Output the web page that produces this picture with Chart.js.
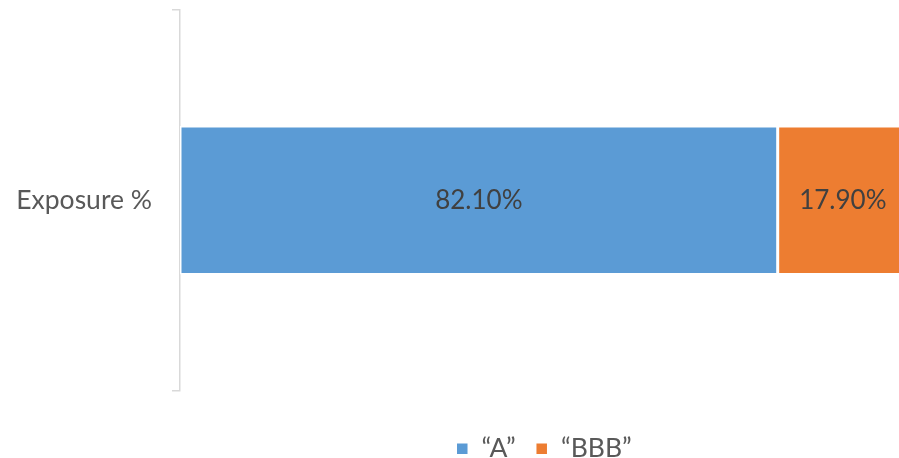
<!DOCTYPE html>
<html>
<head>
<meta charset="utf-8">
<script src="https://cdn.jsdelivr.net/npm/chart.js@4.4.1/dist/chart.umd.min.js"></script>
<style>
  html, body { margin: 0; padding: 0; background: #fff; overflow: hidden; }
  #wrap { width: 908px; height: 472px; position: relative; }
</style>
</head>
<body>
<div id="wrap"><canvas id="myChart"></canvas></div>
<script>
const categories = ['Exposure %'];
const seriesNames = ['\u201cA\u201d', '\u201cBBB\u201d'];
const valuesA = [82.10];
const valuesBBB = [17.90];
const seriesColors = ['#5B9BD5', '#ED7D31'];

const ctx = document.getElementById('myChart');

// writes the value in the middle of each bar
const barLabels = {
  id: 'barLabels',
  afterDatasetsDraw(chart) {
    const c = chart.ctx;
    c.save();
    c.font = '26px Lato';
    c.fillStyle = '#404040';
    c.textAlign = 'center';
    c.textBaseline = 'middle';
    chart.data.datasets.forEach(function (ds, i) {
      chart.getDatasetMeta(i).data.forEach(function (bar, j) {
        const p = bar.getProps(['x', 'y', 'base'], true);
        c.fillText(ds.data[j].toFixed(2) + '%', (p.x + p.base) / 2, p.y);
      });
    });
    c.restore();
  }
};

new Chart(ctx, {
  type: 'bar',
  data: {
    labels: categories,
    datasets: [
      { label: seriesNames[0], data: valuesA, backgroundColor: seriesColors[0] },
      { label: seriesNames[1], data: valuesBBB, backgroundColor: seriesColors[1] }
    ]
  },
  options: {
    indexAxis: 'y',
    responsive: true,
    maintainAspectRatio: false,
    animation: false,
    layout: { padding: { top: 10, left: 0, right: 0, bottom: 0 } },
    datasets: {
      bar: {
        categoryPercentage: 0.39,
        barPercentage: 1,
        borderColor: '#ffffff',
        borderWidth: 1.5,
        borderSkipped: false
      }
    },
    scales: {
      x: {
        stacked: true,
        min: 0,
        max: 100,
        ticks: { display: false },
        grid: { display: false },
        border: { display: false },
        afterFit: function (s) { s.height = 25; }
      },
      y: {
        stacked: true,
        grid: { offset: true, drawOnChartArea: false, tickLength: 8, color: '#D9D9D9', lineWidth: 1.5 },
        border: { color: '#D9D9D9', width: 1.5 },
        ticks: { color: '#595959', font: { family: 'Lato', size: 26.5 }, padding: 20 },
        afterFit: function (s) {
          s.width = 180;
          s.paddingTop = 0;
          s.paddingBottom = 0;
        }
      }
    },
    plugins: {
      tooltip: { enabled: false },
      legend: {
        position: 'bottom',
        fullSize: false,
        labels: {
          color: '#595959',
          font: { family: 'Lato', size: 26.5 },
          boxWidth: 12,
          boxHeight: 12,
          padding: 20
        }
      }
    }
  },
  plugins: [barLabels]
});
</script>
</body>
</html>
